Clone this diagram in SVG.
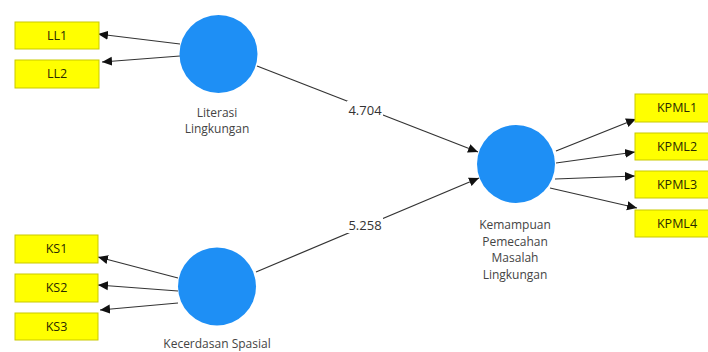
<svg xmlns="http://www.w3.org/2000/svg" width="708" height="352" viewBox="0 0 708 352">
<style>
.ind rect{fill:#ffff00;stroke:#c9c900;stroke-width:1}
.ind text{font-family:"Open Sans","Liberation Sans",sans-serif;font-size:12.5px;fill:#2a2a00;text-anchor:middle}
.lv circle{fill:#1e8ff5}
.lv text{font-family:"Open Sans","Liberation Sans",sans-serif;font-size:12px;fill:#444;text-anchor:middle}
.c line{stroke:#333;stroke-width:1.2;marker-end:url(#ah)}
.lbl rect{fill:#fff}
.lbl text{font-family:"Open Sans","Liberation Sans",sans-serif;font-size:13px;fill:#333;text-anchor:middle}
</style>
<defs>
<marker id="ah" viewBox="0 0 10 10" refX="10" refY="5" markerWidth="10" markerHeight="10" markerUnits="userSpaceOnUse" orient="auto">
<path d="M0,0.5 L10,5 L0,9.5 Z" fill="#111"/>
</marker>
</defs>
<rect width="708" height="352" fill="#fff"/>
<g class="c" id="connectors">
<line x1="180" y1="44" x2="98" y2="34"/>
<line x1="180" y1="56" x2="102" y2="62"/>
<line x1="178" y1="278" x2="98" y2="257"/>
<line x1="178" y1="291" x2="98" y2="285"/>
<line x1="178" y1="303" x2="100" y2="310"/>
<line x1="556" y1="151" x2="636" y2="119"/>
<line x1="556" y1="163" x2="635" y2="152"/>
<line x1="555" y1="179" x2="635" y2="176"/>
<line x1="550" y1="188" x2="637" y2="208"/>
<line x1="257" y1="66" x2="478" y2="152"/>
<line x1="256" y1="272" x2="479" y2="178"/>
</g>
<g class="lbl" id="path-labels">
<rect x="347" y="101" width="36" height="17"/>
<text x="365" y="115">4.704</text>
<rect x="347" y="216" width="36" height="17"/>
<text x="365" y="230">5.258</text>
</g>
<g class="ind" id="LL1"><rect x="15" y="22" width="84" height="27"/><text x="57" y="40">LL1</text></g>
<g class="ind" id="LL2"><rect x="15" y="60" width="84" height="28"/><text x="57" y="78">LL2</text></g>
<g class="ind" id="KS1"><rect x="15" y="235" width="83" height="28"/><text x="56.5" y="253">KS1</text></g>
<g class="ind" id="KS2"><rect x="15" y="274" width="83" height="28"/><text x="56.5" y="292">KS2</text></g>
<g class="ind" id="KS3"><rect x="15" y="313" width="83" height="27"/><text x="56.5" y="331">KS3</text></g>
<g class="ind" id="KPML1"><rect x="635" y="94" width="84" height="28"/><text x="677" y="112">KPML1</text></g>
<g class="ind" id="KPML2"><rect x="635" y="133" width="84" height="27"/><text x="677" y="151">KPML2</text></g>
<g class="ind" id="KPML3"><rect x="635" y="171" width="84" height="27"/><text x="677" y="189">KPML3</text></g>
<g class="ind" id="KPML4"><rect x="635" y="210" width="84" height="27"/><text x="677" y="228">KPML4</text></g>
<g class="lv" id="LiterasiLingkungan"><circle cx="218.5" cy="54" r="39"/><text x="217" y="117">Literasi</text><text x="217" y="133">Lingkungan</text></g>
<g class="lv" id="KecerdasanSpasial"><circle cx="217" cy="286.5" r="39"/><text x="217" y="347.5">Kecerdasan Spasial</text></g>
<g class="lv" id="KPML"><circle cx="516" cy="164" r="39"/><text x="515" y="229">Kemampuan</text><text x="515" y="246">Pemecahan</text><text x="515" y="262">Masalah</text><text x="515" y="279">Lingkungan</text></g>
</svg>
